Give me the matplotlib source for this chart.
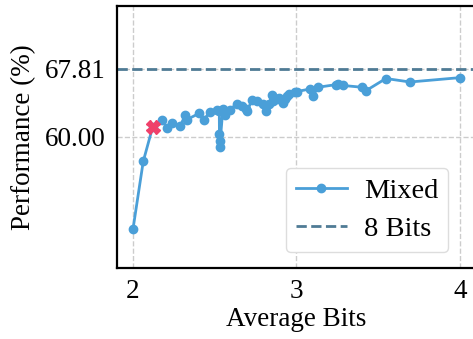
import matplotlib
matplotlib.use("Agg")
import matplotlib.pyplot as plt

avg_bits = [2.000, 2.063, 2.120, 2.180, 2.210, 2.237, 2.290, 2.320, 2.330, 2.405,
            2.436, 2.470, 2.516, 2.528, 2.529, 2.530, 2.531, 2.550, 2.563, 2.593,
            2.634, 2.665, 2.690, 2.700, 2.726, 2.757, 2.797, 2.813, 2.834, 2.848,
            2.854, 2.879, 2.895, 2.919, 2.930, 2.944, 2.956, 2.991, 3.001, 3.083,
            3.100, 3.133, 3.242, 3.256, 3.286, 3.400, 3.425, 3.547, 3.694, 4.000]
performance = [49.4, 57.2, 61.1, 61.9, 61.0, 61.6, 61.3, 62.5, 62.0, 62.7,
               62.0, 62.9, 63.1, 63.0, 60.3, 59.5, 58.9, 63.2, 62.5, 63.1,
               63.8, 63.6, 63.2, 63.0, 64.2, 64.1, 63.8, 63.0, 63.8, 64.8,
               64.1, 64.3, 64.5, 63.9, 64.3, 64.7, 64.9, 65.1, 65.2, 65.5,
               64.7, 65.7, 66.0, 66.1, 65.9, 65.7, 65.3, 66.7, 66.3, 66.8]
highlight_bits = [2.120]
highlight_perf = [61.1]
baseline_8bit = 67.81

x_ticks = [2, 3, 4]
y_ticks = [60.00, 67.81]
y_tick_labels = ["60.00", "67.81"]

plt.rcParams['font.family'] = ['Liberation Serif', 'DejaVu Serif']
fs = 19.5

fig = plt.figure(figsize=(4.73, 3.39), dpi=100)
ax = fig.add_axes([0.2465, 0.21, 0.7605, 0.772])

ax.plot(avg_bits, performance, color='#4a9fd8', linewidth=2, marker='o',
        markersize=6, label='Mixed', zorder=3)
ax.axhline(baseline_8bit, color='#4f7b95', linestyle='--', linewidth=2,
           label='8 Bits', zorder=2)
ax.plot(highlight_bits, highlight_perf, linestyle='none', marker='X',
        markersize=10, color='#f0406a', zorder=4)

ax.set_xlim(1.9, 4.1)
ax.set_ylim(45, 75)
ax.set_xticks(x_ticks)
ax.set_yticks(y_ticks)
ax.set_yticklabels(y_tick_labels)
ax.tick_params(axis='both', length=0, labelsize=fs, pad=8)
ax.grid(True, linestyle='--', color='#cccccc', linewidth=1, zorder=0)
ax.set_axisbelow(True)
for s in ax.spines.values():
    s.set_linewidth(1.6)
    s.set_color('black')

ax.set_xlabel('Average Bits', fontsize=fs, labelpad=2)
ax.set_ylabel('Performance (%)', fontsize=fs, labelpad=6)

leg = ax.legend(loc='lower right', fontsize=20.5, frameon=True, fancybox=True,
                edgecolor='#dddddd', framealpha=1, bbox_to_anchor=(0.962, 0.005),
                handlelength=1.8, borderpad=0.35, labelspacing=0.45,
                handletextpad=0.6)

fig.savefig('out.png', dpi=100)
